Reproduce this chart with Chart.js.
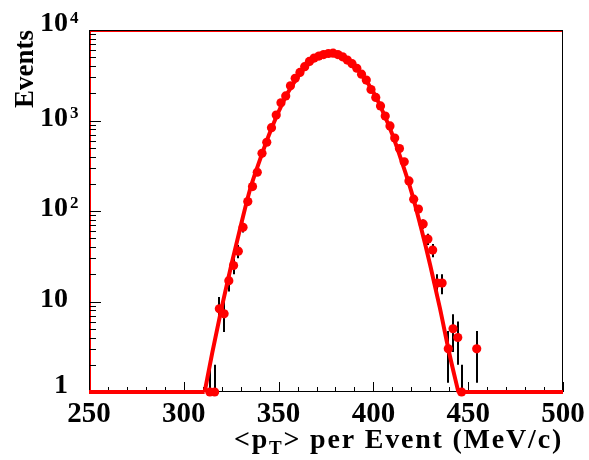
<!DOCTYPE html>
<html>
<head>
<meta charset="utf-8">
<script src="https://cdn.jsdelivr.net/npm/chart.js@4.4.0/dist/chart.umd.min.js"></script>
<style>
  html, body { margin: 0; padding: 0; background: #fff; }
  canvas { display: block; }
</style>
</head>
<body>
<canvas id="chart" width="589" height="460"></canvas>
<script>
'use strict';

// bin centres (MeV/c) and counts per bin
const binCentres = [
  313.75, 316.25, 318.75, 321.25, 323.75, 326.25, 328.75, 331.25, 333.75, 336.25,
  338.75, 341.25, 343.75, 346.25, 348.75, 351.25, 353.75, 356.25, 358.75, 361.25,
  363.75, 366.25, 368.75, 371.25, 373.75, 376.25, 378.75, 381.25, 383.75, 386.25,
  388.75, 391.25, 393.75, 396.25, 398.75, 401.25, 403.75, 406.25, 408.75, 411.25,
  413.75, 416.25, 418.75, 421.25, 423.75, 426.25, 428.75, 431.25, 433.75, 436.25,
  439.5, 442, 444.5, 446.5, 454.5
];
const counts = [
  1, 1, 8.3, 7.3, 17, 25, 36, 66, 127, 186,
  268, 434, 575, 833, 1150, 1570, 1870, 2420, 2930, 3400,
  3930, 4500, 4900, 5150, 5350, 5500, 5550, 5350, 5050, 4650,
  4250, 3780, 3250, 2800, 2200, 1800, 1450, 1120, 870, 640,
  490, 350, 215, 135, 105, 72, 49, 37, 16, 16,
  3, 5, 4, 1, 3
];

// fit curve; below the axis minimum it sits on the floor
const fitX = [311, 315, 320, 325, 330, 335, 340, 345, 350, 355, 360, 365, 370, 375, 377.5,
              380, 385, 390, 395, 400, 405, 410, 415, 420, 425, 430, 435, 440, 444.8];
const fitY = [1, 2.7, 8.6, 25, 68, 175, 360, 700, 1250, 2050, 3000, 4050, 4900, 5450, 5500,
              5450, 4900, 4050, 3000, 2050, 1250, 700, 350, 165, 67, 25, 8.6, 2.7, 1];
const floorLeftX = [250, 311];
const floorRightX = [444.8, 500];

// axis labels
const xTickValues = [250, 300, 350, 400, 450, 500];
const yTickValues = [1, 10, 100, 1000, 10000];
const yTickBase = ['1', '10', '10', '10', '10'];
const yTickExp = ['', '', '2', '3', '4'];

const FONT = '"Liberation Serif", "Times New Roman", serif';
const RED = '#ff0000';

const rootStyle = {
  id: 'rootStyle',
  beforeDatasetsDraw(chart) {
    const ctx = chart.ctx;
    const a = chart.chartArea;
    const xs = chart.scales.x;
    const ys = chart.scales.y;
    ctx.save();

    // inner red frame + black frame
    ctx.strokeStyle = RED;
    ctx.lineWidth = 1;
    ctx.strokeRect(a.left + 1.5, a.top + 1.5, a.right - a.left - 2, a.bottom - a.top - 2);
    ctx.strokeStyle = '#000';
    ctx.strokeRect(a.left + 0.5, a.top + 0.5, a.right - a.left - 1, a.bottom - a.top - 1);

    // x ticks, pointing inward
    ctx.beginPath();
    for (let v = 250; v <= 500; v += 10) {
      const px = Math.round(xs.getPixelForValue(v)) + 0.5;
      const len = (v % 50 === 0) ? 10 : 5;
      ctx.moveTo(px, a.bottom);
      ctx.lineTo(px, a.bottom - len);
    }
    // y ticks (log), pointing inward
    for (let d = 1; d < 10000; d *= 10) {
      for (let m = 1; m <= 9; m++) {
        const py = Math.round(ys.getPixelForValue(d * m)) + 0.5;
        const len = (m === 1) ? 12 : 7;
        ctx.moveTo(a.left, py);
        ctx.lineTo(a.left + len, py);
      }
    }
    ctx.stroke();

    // error bars, sqrt(N)
    ctx.lineWidth = 2;
    ctx.beginPath();
    binCentres.forEach((x, i) => {
      const n = counts[i];
      const err = Math.sqrt(n);
      const px = Math.round(xs.getPixelForValue(x));
      const top = ys.getPixelForValue(n + err);
      const low = n - err > ys.min ? ys.getPixelForValue(n - err) : a.bottom;
      ctx.moveTo(px, top);
      ctx.lineTo(px, low);
    });
    ctx.stroke();
    ctx.restore();
  },
  afterDraw(chart) {
    const ctx = chart.ctx;
    const a = chart.chartArea;
    const xs = chart.scales.x;
    const ys = chart.scales.y;
    ctx.save();
    ctx.fillStyle = '#000';

    // x tick labels
    ctx.font = 'bold 29px ' + FONT;
    ctx.textAlign = 'center';
    ctx.textBaseline = 'alphabetic';
    xTickValues.forEach(v => {
      ctx.fillText(String(v), xs.getPixelForValue(v), 422);
    });

    // y tick labels with exponents
    yTickValues.forEach((v, i) => {
      let py = ys.getPixelForValue(v);
      py += (i === 0 || i === yTickValues.length - 1) ? -6 : -2;
      ctx.font = 'bold 28px ' + FONT;
      ctx.textAlign = 'right';
      ctx.textBaseline = 'middle';
      ctx.fillText(yTickBase[i], 68, py);
      if (yTickExp[i]) {
        ctx.font = 'bold 17px ' + FONT;
        ctx.textAlign = 'left';
        ctx.textBaseline = 'alphabetic';
        ctx.fillText(yTickExp[i], 70, py - 1);
      }
    });

    // y title
    ctx.save();
    ctx.translate(33, a.top);
    ctx.rotate(-Math.PI / 2);
    ctx.font = 'bold 27px ' + FONT;
    ctx.textAlign = 'right';
    ctx.textBaseline = 'alphabetic';
    ctx.fillText('Events', 0, 0);
    ctx.restore();

    // x title: <p_T> per Event (MeV/c)
    const big = 'bold 28px ' + FONT;
    const small = 'bold 19px ' + FONT;
    const parts = [['<p', big, 0], ['T', small, 6], ['> per Event (MeV/c)', big, 0]];
    ctx.letterSpacing = '1.8px';
    let total = 0;
    parts.forEach(p => { ctx.font = p[1]; total += ctx.measureText(p[0]).width; });
    let x = a.right - total;
    ctx.textAlign = 'left';
    ctx.textBaseline = 'alphabetic';
    parts.forEach(p => {
      ctx.font = p[1];
      ctx.fillText(p[0], x, 448 + p[2]);
      x += ctx.measureText(p[0]).width;
    });
    ctx.restore();
  }
};

function lineSet(xArr, yArr) {
  return {
    type: 'line',
    data: xArr.map((x, i) => ({ x: x, y: yArr[i] })),
    borderColor: RED,
    borderWidth: 4,
    pointRadius: 0,
    cubicInterpolationMode: 'monotone',
    fill: false,
    clip: 6
  };
}

const ctx = document.getElementById('chart').getContext('2d');
new Chart(ctx, {
  type: 'scatter',
  data: {
    datasets: [
      lineSet(floorLeftX, floorLeftX.map(() => 1)),
      lineSet(fitX, fitY),
      lineSet(floorRightX, floorRightX.map(() => 1)),
      {
        label: 'data',
        data: binCentres.map((x, i) => ({ x: x, y: counts[i] })),
        backgroundColor: RED,
        borderWidth: 0,
        pointRadius: 4.6,
        clip: 8
      }
    ]
  },
  options: {
    responsive: false,
    animation: false,
    events: [],
    layout: { padding: { left: 89, right: 26, top: 30, bottom: 68 } },
    plugins: { legend: { display: false }, tooltip: { enabled: false } },
    scales: {
      x: { type: 'linear', min: 250, max: 500, display: false },
      y: { type: 'logarithmic', min: 1, max: 10000, display: false }
    }
  },
  plugins: [rootStyle]
});
</script>
</body>
</html>
